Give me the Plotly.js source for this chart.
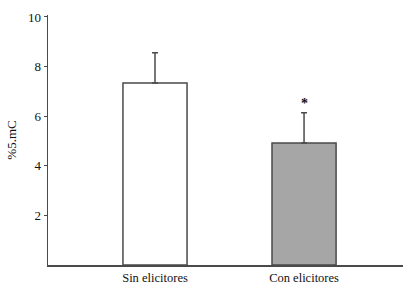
<!DOCTYPE html>
<html><head><meta charset="utf-8">
<script src="https://cdn.plot.ly/plotly-3.0.1.min.js"></script>
<style>html,body{margin:0;padding:0;background:#fff}#c{width:419px;height:289px}</style>
</head><body><div id="c"></div>
<script>
const categories = ["Sin elicitores", "Con elicitores"];
const values = [7.34, 4.92];
const errPlus = [1.22, 1.22];
const barColors = ["#ffffff", "#a6a6a6"];
const yTicks = [2, 4, 6, 8, 10];
const sigMarks = ["", "*"];
const sigY = [null, 6.5];

const trace = {
  type: "bar",
  x: [0, 1],
  y: values,
  width: 0.43,
  marker: {color: barColors, line: {color: "#4a4a4a", width: 1.5}},
  error_y: {type: "data", symmetric: false, array: errPlus, arrayminus: [0, 0], color: "#4a4a4a", thickness: 1.5, width: 3},
  hoverinfo: "none"
};
const annotations = [];
sigMarks.forEach((s, i) => { if (s) annotations.push({x: i, y: sigY[i], text: "<b>" + s + "</b>", showarrow: false, xref: "x", yref: "y", font: {family: "Liberation Serif", size: 14, color: "#111"}}); });

Plotly.newPlot("c", [trace], {
  width: 419, height: 289,
  margin: {l: 48, r: 16, t: 15, b: 24},
  paper_bgcolor: "#fff", plot_bgcolor: "#fff",
  showlegend: false,
  font: {family: "Liberation Serif", size: 13, color: "#111"},
  xaxis: {range: [-0.718, 1.664], tickvals: [0, 1], ticktext: categories, showline: true, linecolor: "#4a4a4a", linewidth: 1.5, ticks: "", showgrid: false, zeroline: false, tickfont: {size: 12.5, color: "#111"}, fixedrange: true},
  yaxis: {range: [0, 10.08], tickvals: yTicks, showline: true, linecolor: "#4a4a4a", linewidth: 1.5, ticks: "outside", ticklen: 3, tickcolor: "#4a4a4a", showgrid: false, zeroline: false, tickfont: {size: 13, color: "#111"}, title: {text: "%5.mC", font: {size: 13, color: "#111"}, standoff: 8}},
  annotations: annotations
}, {staticPlot: true});
</script></body></html>
